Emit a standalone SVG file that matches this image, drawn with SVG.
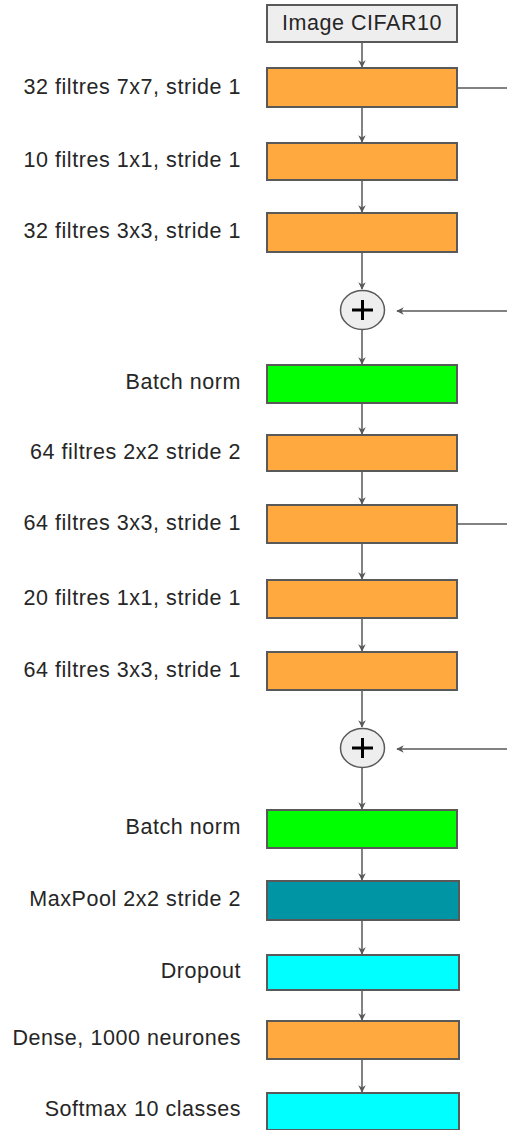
<svg xmlns="http://www.w3.org/2000/svg" width="507" height="1130" viewBox="0 0 507 1130">
<style>
.box{stroke:#595959;stroke-width:2}
.or{fill:#ffa93f}.gr{fill:#00ff00}.te{fill:#0095a4}.cy{fill:#00ffff}
.lbl{font-family:"Liberation Sans",Arial,sans-serif;font-size:21.5px;letter-spacing:0.55px;fill:#262626;text-anchor:end;dominant-baseline:central}
.conn line{stroke:#595959;stroke-width:1.5}
</style>
<defs>
<marker id="ah" viewBox="0 0 10 10" refX="9" refY="5" markerWidth="5" markerHeight="5" orient="auto-start-reverse" markerUnits="strokeWidth">
<path d="M0,0 L10,5 L0,10 L3,5 z" fill="#595959"/>
</marker>
</defs>
<rect width="507" height="1130" fill="#ffffff"/>
<g class="conn">
<line x1="362" y1="42" x2="362" y2="67" marker-end="url(#ah)"/>
<line x1="362" y1="107" x2="362" y2="142" marker-end="url(#ah)"/>
<line x1="362" y1="180" x2="362" y2="212" marker-end="url(#ah)"/>
<line x1="362" y1="252" x2="362" y2="289" marker-end="url(#ah)"/>
<line x1="362" y1="330" x2="362" y2="364" marker-end="url(#ah)"/>
<line x1="362" y1="403" x2="362" y2="434" marker-end="url(#ah)"/>
<line x1="362" y1="471" x2="362" y2="504" marker-end="url(#ah)"/>
<line x1="362" y1="543" x2="362" y2="579" marker-end="url(#ah)"/>
<line x1="362" y1="618" x2="362" y2="651" marker-end="url(#ah)"/>
<line x1="362" y1="690" x2="362" y2="727" marker-end="url(#ah)"/>
<line x1="362" y1="768" x2="362" y2="809" marker-end="url(#ah)"/>
<line x1="362" y1="848" x2="362" y2="880" marker-end="url(#ah)"/>
<line x1="362" y1="920" x2="362" y2="954" marker-end="url(#ah)"/>
<line x1="362" y1="990" x2="362" y2="1020" marker-end="url(#ah)"/>
<line x1="362" y1="1059" x2="362" y2="1092" marker-end="url(#ah)"/>
<line x1="457" y1="88" x2="507" y2="88"/>
<line x1="507" y1="311" x2="397" y2="311" marker-end="url(#ah)"/>
<line x1="457" y1="524" x2="507" y2="524"/>
<line x1="507" y1="749" x2="397" y2="749" marker-end="url(#ah)"/>
</g>
<g id="input">
<rect x="267" y="5" width="190" height="37" fill="#eeeeee" class="box"/>
<text x="362" y="23" class="lbl" style="text-anchor:middle">Image CIFAR10</text>
</g>
<g id="conv1"><rect x="267" y="68" width="190" height="39" class="box or"/><text x="241" y="87" class="lbl">32 filtres 7x7, stride 1</text></g>
<g id="conv2"><rect x="267" y="143" width="190" height="37" class="box or"/><text x="241" y="160" class="lbl">10 filtres 1x1, stride 1</text></g>
<g id="conv3"><rect x="267" y="213" width="190" height="39" class="box or"/><text x="241" y="231" class="lbl">32 filtres 3x3, stride 1</text></g>
<g id="add1"><ellipse cx="362.5" cy="310" rx="22" ry="19.5" fill="#eeeeee" stroke="#595959" stroke-width="1.5"/><path d="M352,310 H373 M362.5,300 V320" stroke="#000" stroke-width="3"/></g>
<g id="bn1"><rect x="267" y="365" width="190" height="38" class="box gr"/><text x="241" y="382" class="lbl">Batch norm</text></g>
<g id="conv4"><rect x="267" y="435" width="190" height="36" class="box or"/><text x="241" y="452" class="lbl">64 filtres 2x2 stride 2</text></g>
<g id="conv5"><rect x="267" y="505" width="190" height="38" class="box or"/><text x="241" y="523" class="lbl">64 filtres 3x3, stride 1</text></g>
<g id="conv6"><rect x="267" y="580" width="190" height="38" class="box or"/><text x="241" y="598" class="lbl">20 filtres 1x1, stride 1</text></g>
<g id="conv7"><rect x="267" y="652" width="190" height="38" class="box or"/><text x="241" y="670" class="lbl">64 filtres 3x3, stride 1</text></g>
<g id="add2"><ellipse cx="362.5" cy="748" rx="22" ry="19.5" fill="#eeeeee" stroke="#595959" stroke-width="1.5"/><path d="M352,748 H373 M362.5,738 V758" stroke="#000" stroke-width="3"/></g>
<g id="bn2"><rect x="267" y="810" width="190" height="38" class="box gr"/><text x="241" y="827" class="lbl">Batch norm</text></g>
<g id="maxpool"><rect x="267" y="881" width="192" height="39" class="box te"/><text x="241" y="899" class="lbl">MaxPool 2x2 stride 2</text></g>
<g id="dropout"><rect x="267" y="955" width="192" height="35" class="box cy"/><text x="241" y="971" class="lbl">Dropout</text></g>
<g id="dense"><rect x="267" y="1021" width="192" height="38" class="box or"/><text x="241" y="1038" class="lbl">Dense, 1000 neurones</text></g>
<g id="softmax"><rect x="267" y="1093" width="192" height="37" class="box cy"/><text x="241" y="1109" class="lbl">Softmax 10 classes</text></g>
</svg>
